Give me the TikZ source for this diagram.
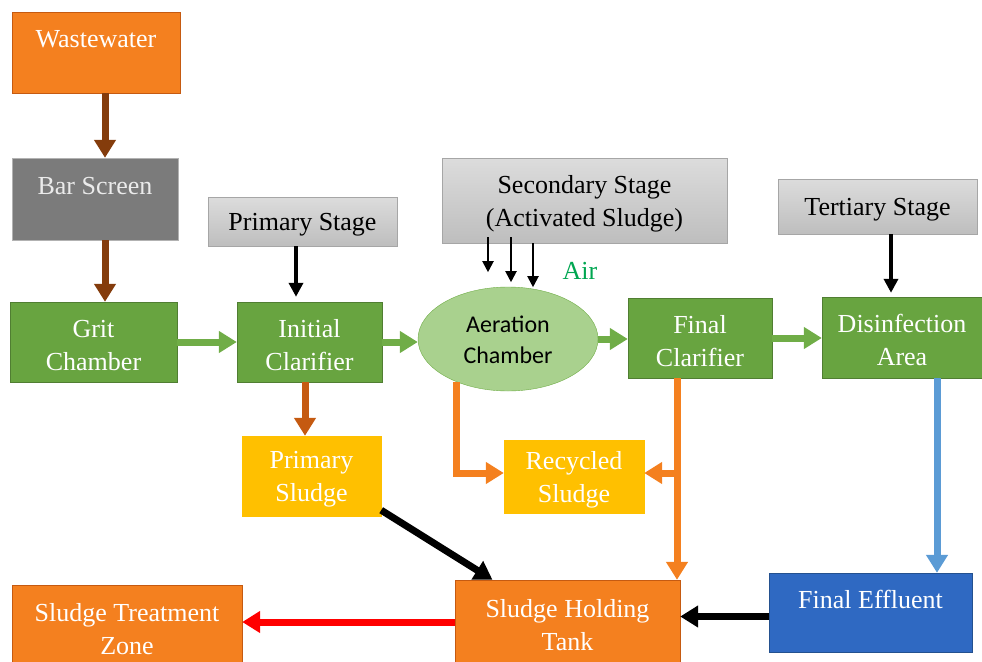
\documentclass[tikz,border=0pt]{standalone}
\usepackage{fontspec}
\setmainfont{Liberation Serif}
\newfontfamily\calibrifont{Carlito}
\usetikzlibrary{arrows.meta,shapes.geometric}
\definecolor{wwOrange}{HTML}{F4801F}
\definecolor{wwOrangeLine}{HTML}{C55A11}
\definecolor{wwBrown}{HTML}{843C0C}
\definecolor{wwGreen}{HTML}{68A440}
\definecolor{wwGreenLine}{HTML}{507E32}
\definecolor{wwGreenPipe}{HTML}{70AD47}
\definecolor{wwLightGreen}{HTML}{A9D18E}
\definecolor{wwYellow}{HTML}{FFC000}
\definecolor{wwBlue}{HTML}{2F69C2}
\definecolor{wwBlueLine}{HTML}{24518F}
\definecolor{wwBluePipe}{HTML}{5B9BD5}
\definecolor{wwGray}{HTML}{7B7B7B}
\definecolor{wwStageTop}{HTML}{DCDCDC}
\definecolor{wwStageBot}{HTML}{BEBEBE}
\definecolor{wwAir}{HTML}{00A651}
\newcommand\wwup{\rule{0pt}{24pt}}
\tikzset{
	box/.style={draw, rectangle, inner sep=0pt, align=center, text=white, font=\fontsize{26}{33}\selectfont},
	orangebox/.style={box, fill=wwOrange, draw=wwOrangeLine},
	greenbox/.style={box, fill=wwGreen, draw=wwGreenLine},
	yellowbox/.style={box, fill=wwYellow, draw=wwYellow},
	stagebox/.style={box, draw=gray!70, top color=wwStageTop, bottom color=wwStageBot, text=black},
	pipe/.style={line width=7pt, -{Triangle[width=21pt,length=18pt]}},
	feed/.style={line width=4pt, -{Triangle[width=14pt,length=14pt]}},
	airfeed/.style={line width=2pt, -{Triangle[width=11pt,length=11pt]}},
}
\begin{document}
\begin{tikzpicture}[x=1pt, y=-1pt]
	\useasboundingbox (0,0) rectangle (982,661);
	\clip (0,0) rectangle (982,661);
	% boxes
	\node[orangebox, minimum width=168, minimum height=81] (waste) at (96,52.5) {\wwup Wastewater\\~};
	\node[box, fill=wwGray, draw=gray!60, text=white!92!black, minimum width=166, minimum height=82] (bar) at (95,199) {\wwup Bar Screen\\~};
	\node[stagebox, minimum width=189, minimum height=49] (pstage) at (302.5,221.5) {\wwup Primary Stage};
	\node[stagebox, minimum width=285, minimum height=85] (sstage) at (584.5,200.5) {\wwup Secondary Stage\\(Activated Sludge)};
	\node[stagebox, minimum width=199, minimum height=55] (tstage) at (877.5,206.5) {\wwup Tertiary Stage};
	\node[greenbox, minimum width=167, minimum height=80] (grit) at (93.5,342) {\wwup Grit\\Chamber};
	\node[greenbox, minimum width=145, minimum height=80] (initial) at (309.5,342) {\wwup Initial\\Clarifier};
	\node[ellipse, draw=wwGreenPipe, fill=wwLightGreen, inner sep=0pt, align=center, minimum width=180, minimum height=104, font=\calibrifont\fontsize{24}{31}\selectfont] (aeration) at (508,339) {\rule{0pt}{19pt}Aeration\\Chamber};
	\node[greenbox, minimum width=144, minimum height=80] (fclar) at (700,338) {\wwup Final\\Clarifier};
	\node[greenbox, minimum width=160, minimum height=81] (disinf) at (902,337.5) {\wwup Disinfection\\Area};
	\node[yellowbox, minimum width=139, minimum height=80] (psludge) at (311.5,476) {\wwup Primary\\Sludge};
	\node[yellowbox, minimum width=140, minimum height=73] (recycled) at (574,477) {\wwup Recycled\\Sludge};
	\node[orangebox, minimum width=225, minimum height=84] (holding) at (567.5,622) {\wwup Sludge Holding\\Tank};
	\node[orangebox, minimum width=230, minimum height=82] (treat) at (127,626) {\wwup Sludge Treatment\\Zone};
	\node[box, fill=wwBlue, draw=wwBlueLine, minimum width=203, minimum height=79] (effluent) at (870.5,612.5) {\wwup Final Effluent\\~};
	\node[text=wwAir, font=\fontsize{26}{30}\selectfont] (air) at (580,271) {Air};
	% main line
	\draw[pipe, wwBrown] ([xshift=9pt]waste.south) -- ([xshift=10pt]bar.north);
	\draw[pipe, wwBrown] ([xshift=10pt]bar.south) -- ([xshift=11.5pt]grit.north);
	\draw[pipe, wwGreenPipe] (grit.east) -- (initial.west);
	\draw[pipe, wwGreenPipe] (initial.east) -- (initial.east -| aeration.west);
	\draw[pipe, wwGreenPipe] (aeration.east) -- (aeration.east -| fclar.west);
	\draw[pipe, wwGreenPipe] (fclar.east) -- (fclar.east -| disinf.west);
	% stages
	\draw[feed, shorten >=5pt] ([xshift=-6.5pt]pstage.south) -- ([xshift=-6.5pt]pstage.south |- initial.north);
	\draw[feed, shorten >=4pt] ([xshift=13.5pt]tstage.south) -- ([xshift=13.5pt]tstage.south |- disinf.north);
	\foreach \dx/\dy/\len in {-96.5/-6/35, -73.5/-6/45, -51.5/0/44}
		\draw[airfeed] ([shift={(\dx,\dy)}]sstage.south) -- ++(0,\len);
	% sludge lines
	\draw[pipe, wwOrangeLine] ([xshift=-4.5pt]initial.south) -- ([xshift=-4.5pt]initial.south |- psludge.north);
	\coordinate (rwest) at ([yshift=4pt]recycled.west);
	\coordinate (reast) at ([yshift=4pt]recycled.east);
	\coordinate (fdrop) at ([xshift=-23pt]fclar.south);
	\draw[pipe, wwOrange] (aeration.220) |- (rwest);
	\draw[pipe, wwOrange] (fdrop) -- (fdrop |- holding.north);
	\draw[pipe, wwOrange] (reast -| fdrop) -- (reast);
	\draw[pipe, black] ([yshift=6pt]psludge.south east) -- ([xshift=-75pt]holding.north);
	\coordinate (bdrop) at ([xshift=35pt]disinf.south);
	\draw[pipe, wwBluePipe] (bdrop) -- (bdrop |- effluent.north);
	\coordinate (eout) at ([yshift=-4pt]effluent.west);
	\draw[pipe, black] (eout) -- (eout -| holding.east);
	\draw[pipe, red] (holding.west) -- (holding.west -| treat.east);
\end{tikzpicture}
\end{document}
